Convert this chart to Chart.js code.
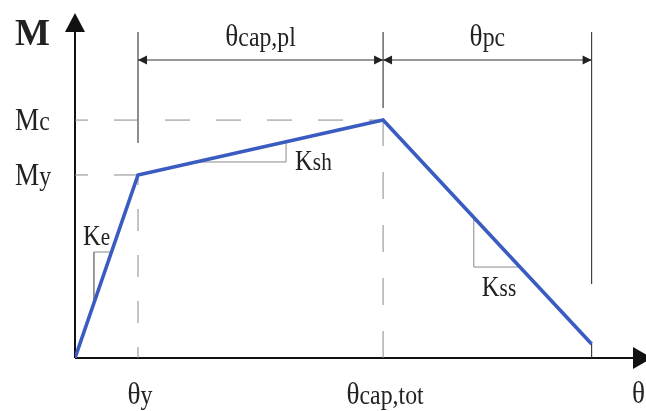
<!DOCTYPE html>
<html>
<head>
<meta charset="utf-8">
<script src="https://cdn.jsdelivr.net/npm/chart.js@4.4.0/dist/chart.umd.min.js"></script>
<style>
  html, body { margin: 0; padding: 0; background: #fff; overflow: hidden; }
  canvas { display: block; }
</style>
</head>
<body>
<canvas id="grafico" width="646" height="411"></canvas>
<script>
// Curva momento-rotação (backbone)
const theta = [0, 1, 4.89, 8.2];
const moment = [0, 1, 1.30, 0.077];

// Rótulos
const yTickTexts = [['M', 'y'], ['M', 'c']];          // em moment[1], moment[2]
const xTickTexts = [['θ', 'y'], ['θ', 'cap,tot']];    // em theta[1], theta[2]
const spanTexts = [['θ', 'cap,pl'], ['θ', 'pc']];     // theta[1]-theta[2], theta[2]-theta[3]
const slopeTexts = [['K', 'e'], ['K', 'sh'], ['K', 'ss']];

// cantos dos triângulos de inclinação (um por trecho)
const slopeCornerX = [0.30, 3.35, 6.33];
const slopeCornerY = [0.579, 1.071, 0.497];

const xMax = 9.063, yMax = 1.885;
const dimTop = 1.781;      // topo das linhas de chamada
const dimLevel = 1.628;    // altura das cotas
const extCapBottom = 1.366;
const extUBottom = 0.404;

const blue = '#3a5cc0';
const gray = '#8a8a8a';
const ink = '#222';
const serif = '"Liberation Serif", "DejaVu Serif", serif';
const squeeze = 0.85;

function pt(x, y) { return { x: x, y: y }; }

// y na curva para um x do trecho i
function yOnSeg(i, x) {
    const t = (x - theta[i]) / (theta[i + 1] - theta[i]);
    return moment[i] + t * (moment[i + 1] - moment[i]);
}
function xOnSeg(i, y) {
    const t = (y - moment[i]) / (moment[i + 1] - moment[i]);
    return theta[i] + t * (theta[i + 1] - theta[i]);
}

function seg(points, color, width, dash, dashOffset) {
    return {
        data: points,
        borderColor: color,
        borderWidth: width,
        borderDash: dash || [],
        borderDashOffset: dashOffset || 0,
        pointRadius: 0,
        fill: false,
        tension: 0
    };
}

const datasets = [];
// backbone por cima
datasets.push(seg(theta.map((t, i) => pt(t, moment[i])), blue, 3.6));

// linhas tracejadas de referência
datasets.push(seg([pt(0, moment[2]), pt(theta[2], moment[2])], gray, 1, [25, 26], 12));
datasets.push(seg([pt(0, moment[1]), pt(theta[1], moment[1])], gray, 1, [25, 26], 12));
datasets.push(seg([pt(theta[1], 0), pt(theta[1], moment[1])], gray, 1, [22, 24], 11));
datasets.push(seg([pt(theta[2], 0), pt(theta[2], moment[2])], gray, 1, [27, 26], 0));

// linhas de chamada das cotas
datasets.push(seg([pt(theta[1], dimTop), pt(theta[1], 1.175)], '#333', 1.1));
datasets.push(seg([pt(theta[2], dimTop), pt(theta[2], extCapBottom)], '#333', 1.1));
datasets.push(seg([pt(theta[3], dimTop), pt(theta[3], extUBottom)], '#333', 1.1));
datasets.push(seg([pt(theta[3], moment[3]), pt(theta[3], 0)], '#333', 1.1));
datasets.push(seg([pt(theta[1], dimLevel), pt(theta[3], dimLevel)], '#333', 1.1));

// triângulos de inclinação
slopeCornerX.forEach((cx, i) => {
    const cy = slopeCornerY[i];
    datasets.push(seg([pt(xOnSeg(i, cy), cy), pt(cx, cy), pt(cx, yOnSeg(i, cx))], gray, 1));
});

function textWidth(ctx, main, sub, mainSize, subSize) {
    ctx.font = mainSize + 'px ' + serif;
    let w = ctx.measureText(main).width;
    ctx.font = subSize + 'px ' + serif;
    w += ctx.measureText(sub).width;
    return w * squeeze;
}

function drawLabel(ctx, parts, x, y, mainSize, subSize, align) {
    const w = textWidth(ctx, parts[0], parts[1], mainSize, subSize);
    const left = align === 'center' ? x - w / 2 : x;
    ctx.save();
    ctx.translate(left, y);
    ctx.scale(squeeze, 1);
    ctx.fillStyle = ink;
    ctx.textAlign = 'left';
    ctx.textBaseline = 'alphabetic';
    ctx.font = mainSize + 'px ' + serif;
    ctx.fillText(parts[0], 0, 0);
    const mw = ctx.measureText(parts[0]).width;
    ctx.font = subSize + 'px ' + serif;
    ctx.fillText(parts[1], mw, 0);
    ctx.restore();
}

function arrowHead(ctx, tipX, tipY, dir, len, half) {
    // dir: 'left', 'right', 'up'
    ctx.beginPath();
    ctx.moveTo(tipX, tipY);
    if (dir === 'left') { ctx.lineTo(tipX + len, tipY - half); ctx.lineTo(tipX + len, tipY + half); }
    if (dir === 'right') { ctx.lineTo(tipX - len, tipY - half); ctx.lineTo(tipX - len, tipY + half); }
    if (dir === 'up') { ctx.lineTo(tipX - half, tipY + len); ctx.lineTo(tipX + half, tipY + len); }
    ctx.closePath();
    ctx.fill();
}

const desenho = {
    id: 'desenho',
    beforeDatasetsDraw(chart) {
        const ctx = chart.ctx;
        const xs = chart.scales.x, ys = chart.scales.y;
        const x0 = xs.getPixelForValue(0), y0 = ys.getPixelForValue(0);
        ctx.save();
        ctx.strokeStyle = '#111';
        ctx.fillStyle = '#111';
        ctx.lineWidth = 2;
        ctx.beginPath();
        ctx.moveTo(x0, y0);
        ctx.lineTo(xs.getPixelForValue(xMax) - 12, y0);
        ctx.moveTo(x0, y0);
        ctx.lineTo(x0, ys.getPixelForValue(yMax) + 15);
        ctx.stroke();
        arrowHead(ctx, x0, ys.getPixelForValue(yMax), 'up', 19, 10);
        arrowHead(ctx, xs.getPixelForValue(xMax) + 6, y0, 'right', 19, 11);
        ctx.restore();
    },
    afterDatasetsDraw(chart) {
        const ctx = chart.ctx;
        const xs = chart.scales.x, ys = chart.scales.y;
        const px = v => xs.getPixelForValue(v), py = v => ys.getPixelForValue(v);

        // pontas das cotas
        ctx.save();
        ctx.fillStyle = '#222';
        const yd = py(dimLevel);
        arrowHead(ctx, px(theta[1]), yd, 'left', 9, 4.5);
        arrowHead(ctx, px(theta[2]), yd, 'right', 9, 4.5);
        arrowHead(ctx, px(theta[2]), yd, 'left', 9, 4.5);
        arrowHead(ctx, px(theta[3]), yd, 'right', 9, 4.5);
        ctx.restore();

        // eixo M
        ctx.save();
        ctx.fillStyle = ink;
        ctx.font = 'bold 37px ' + serif;
        ctx.textBaseline = 'alphabetic';
        ctx.fillText('M', px(0) - 60, py(yMax) + 32);
        ctx.restore();

        // eixo θ
        drawLabel(ctx, ['θ', ''], px(xMax) - 14, py(0) + 45, 32, 28, 'left');

        // rótulos de M
        yTickTexts.forEach((t, i) => {
            drawLabel(ctx, t, px(0) - 60, py(moment[i + 1]) + 10, 32, 28, 'left');
        });
        // rótulos de θ
        xTickTexts.forEach((t, i) => {
            drawLabel(ctx, t, px(theta[i + 1]) + 2, py(0) + 46, 32, 28, 'center');
        });
        // cotas
        spanTexts.forEach((t, i) => {
            drawLabel(ctx, t, (px(theta[i + 1]) + px(theta[i + 2])) / 2, py(dimLevel) - 14, 32, 28, 'center');
        });
        // inclinações
        const offs = [[-11, -7], [9, 8], [8, 29]];
        slopeTexts.forEach((t, i) => {
            drawLabel(ctx, t, px(slopeCornerX[i]) + offs[i][0], py(slopeCornerY[i]) + offs[i][1], 29, 25, 'left');
        });
    }
};

new Chart(document.getElementById('grafico').getContext('2d'), {
    type: 'line',
    data: { datasets: datasets },
    options: {
        responsive: false,
        animation: false,
        events: [],
        layout: { padding: { left: 75, top: 13, right: 0, bottom: 53 } },
        scales: {
            x: { type: 'linear', min: 0, max: xMax, display: false },
            y: { type: 'linear', min: 0, max: yMax, display: false }
        },
        plugins: { legend: { display: false }, tooltip: { enabled: false } }
    },
    plugins: [desenho]
});
</script>
</body>
</html>
